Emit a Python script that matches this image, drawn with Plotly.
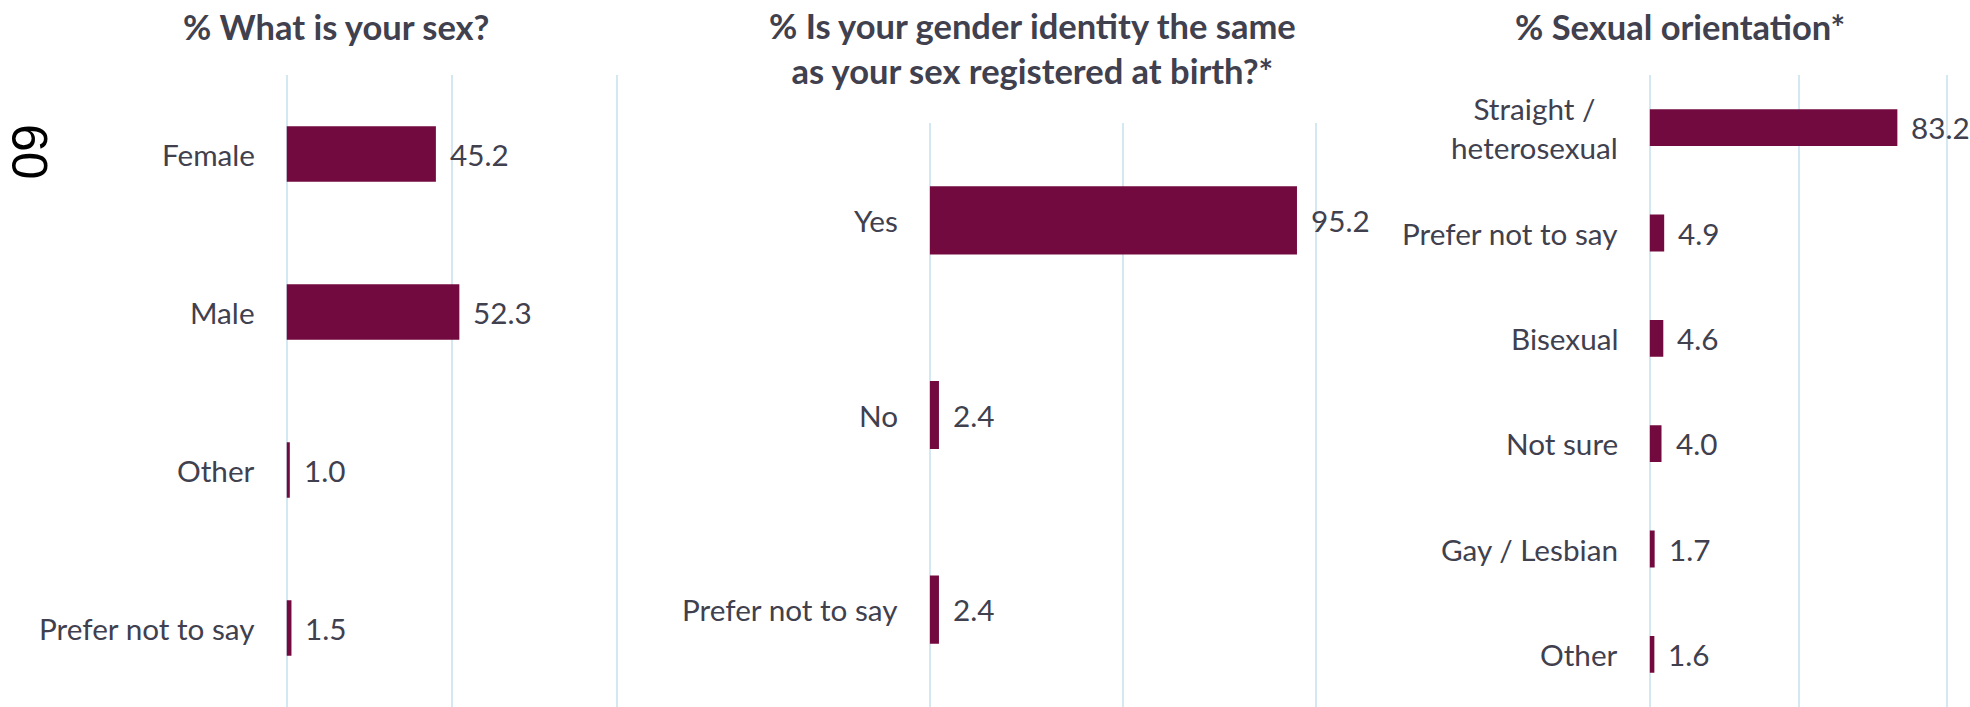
import plotly.graph_objects as go

# ---- data -------------------------------------------------------------
sex_labels = ["Female", "Male", "Other", "Prefer not to say"]
sex_values = [45.2, 52.3, 1.0, 1.5]

gender_labels = ["Yes", "No", "Prefer not to say"]
gender_values = [95.2, 2.4, 2.4]

orient_labels = ["Straight /<br>heterosexual", "Prefer not to say", "Bisexual",
                 "Not sure", "Gay / Lesbian", "Other"]
orient_values = [83.2, 4.9, 4.6, 4.0, 1.7, 1.6]

titles = ["% What is your sex?",
          "% Is your gender identity the same<br>as your sex registered at birth?*",
          "% Sexual orientation*"]

# ---- styling ----------------------------------------------------------
W, H = 1970, 707
BAR = "#730A3F"
TEXT = "#40404E"
GRID = "#D4E8F1"
FONT = "Lato"
LABEL_SIZE = 29.7
TITLE_SIZE = 34.5

# pixel geometry of each panel: x at 0 %, x at 100 %, top of plot area
panels = [
    dict(labels=sex_labels, values=sex_values, x0=286.5, x100=617.0, top=75,
         title=titles[0], tx=336, ty=27),
    dict(labels=gender_labels, values=gender_values, x0=929.7, x100=1315.5, top=123,
         title=titles[1], tx=1032, ty=48),
    dict(labels=orient_labels, values=orient_values, x0=1649.6, x100=1947.4, top=75,
         title=titles[2], tx=1680, ty=27),
]

XMAX = 101

fig = go.Figure()
annotations = []

for i, p in enumerate(panels, start=1):
    xa = "x" if i == 1 else f"x{i}"
    ya = "y" if i == 1 else f"y{i}"
    n = len(p["labels"])
    pos = list(range(n))
    ppu = (p["x100"] - p["x0"]) / 100.0
    x_right = p["x0"] + XMAX * ppu

    fig.add_trace(go.Bar(
        x=p["values"], y=pos, orientation="h", width=0.35,
        marker=dict(color=BAR, line=dict(width=0)),
        xaxis=xa, yaxis=ya, showlegend=False, hoverinfo="x+y",
    ))

    fig.update_layout(**{
        ("xaxis" if i == 1 else f"xaxis{i}"): dict(
            domain=[p["x0"] / W, x_right / W], range=[0, XMAX],
            tick0=0, dtick=50, showgrid=True, gridcolor=GRID, gridwidth=2,
            zeroline=True, zerolinecolor=GRID, zerolinewidth=2,
            showticklabels=False, showline=False, ticks="", anchor=ya,
            fixedrange=True,
        ),
        ("yaxis" if i == 1 else f"yaxis{i}"): dict(
            domain=[0, 1 - p["top"] / H], range=[n - 0.5, -0.5],
            showgrid=False, zeroline=False, showline=False, ticks="",
            showticklabels=False, anchor=xa, fixedrange=True,
        ),
    })

    # category labels, right-aligned next to the axis
    for k, lab in enumerate(p["labels"]):
        annotations.append(dict(
            x=0, y=k, xref=xa, yref=ya, text=lab, showarrow=False,
            xanchor="right", yanchor="middle", align="center", xshift=-30,
            font=dict(family=FONT, size=LABEL_SIZE, color=TEXT),
        ))
    # value labels just past the bar end
    for k, v in enumerate(p["values"]):
        annotations.append(dict(
            x=v, y=k, xref=xa, yref=ya, text=f"{v:.1f}", showarrow=False,
            xanchor="left", yanchor="middle", xshift=12,
            font=dict(family=FONT, size=LABEL_SIZE, color=TEXT),
        ))
    # panel heading
    annotations.append(dict(
        x=p["tx"] / W, y=1 - p["ty"] / H, xref="paper", yref="paper",
        text=f"<b>{p['title']}</b>", showarrow=False,
        xanchor="center", yanchor="middle", align="center",
        font=dict(family=FONT, size=TITLE_SIZE, color=TEXT),
    ))

# page number printed sideways in the margin
annotations.append(dict(
    x=29 / W, y=1 - 152 / H, xref="paper", yref="paper", text="60",
    showarrow=False, textangle=90, xanchor="center", yanchor="middle",
    font=dict(family="Liberation Sans", size=50, color="#000000"),
))

fig.update_layout(
    width=W, height=H,
    margin=dict(l=0, r=0, t=0, b=0),
    paper_bgcolor="white", plot_bgcolor="white",
    bargap=0.65, annotations=annotations,
)

fig.write_html("out.html", config={"displayModeBar": False})
